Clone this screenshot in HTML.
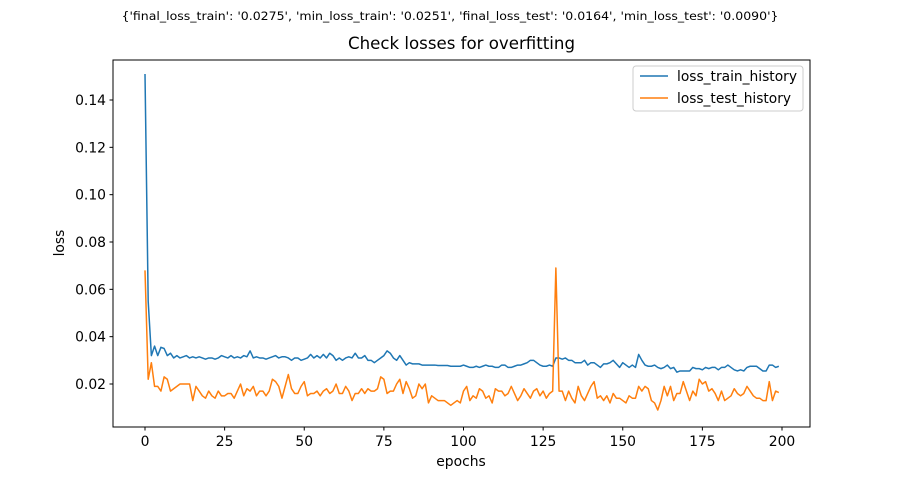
<!DOCTYPE html>
<html><head><meta charset="utf-8"><style>
body{margin:0;background:#fff;}
svg text{font-family:"DejaVu Sans","Liberation Sans",sans-serif;fill:#000;}
</style></head><body>
<svg id="chart" width="900" height="480" xmlns="http://www.w3.org/2000/svg">
<text x="450" y="20" font-size="11.5" text-anchor="middle" textLength="657" lengthAdjust="spacingAndGlyphs">{'final_loss_train': '0.0275', 'min_loss_train': '0.0251', 'final_loss_test': '0.0164', 'min_loss_test': '0.0090'}</text>
<text x="461.5" y="49" font-size="16.7" text-anchor="middle" textLength="227" lengthAdjust="spacingAndGlyphs">Check losses for overfitting</text>
<g id="axes"></g>
<rect x="113" y="60" width="697" height="367" fill="none" stroke="#000" stroke-width="1"/>
<text x="461" y="466" font-size="13.9" text-anchor="middle">epochs</text>
<text x="64" y="243" font-size="13.9" text-anchor="middle" transform="rotate(-90 64 243)">loss</text>
<g>
<rect x="633" y="66" width="170" height="45" fill="#fff" stroke="#ccc" rx="3"/>
<line x1="640" y1="76" x2="668" y2="76" stroke="#1f77b4" stroke-width="1.5"/>
<text x="677" y="81" font-size="13.9" textLength="120" lengthAdjust="spacingAndGlyphs">loss_train_history</text>
<line x1="640" y1="98" x2="668" y2="98" stroke="#ff7f0e" stroke-width="1.5"/>
<text x="677" y="103" font-size="13.9" textLength="114" lengthAdjust="spacingAndGlyphs">loss_test_history</text>
</g>
</svg>
<script>
const trainLoss=[.151,.055,.032,.036,.032,.0355,.035,.032,.033,.031,
.032,.031,.0315,.032,.031,.0315,.031,.0315,.031,.0305,
.031,.031,.0305,.031,.032,.0315,.031,.032,.031,.0315,
.031,.032,.0315,.034,.031,.0315,.031,.031,.0305,.031,
.0315,.032,.031,.0315,.0315,.031,.030,.031,.031,.030,
.0305,.031,.0325,.031,.032,.031,.0325,.031,.033,.032,
.030,.031,.030,.031,.0315,.031,.033,.031,.031,.032,
.030,.030,.029,.030,.031,.032,.034,.033,.031,.030,
.032,.030,.028,.029,.0285,.0285,.0285,.028,.028,.028,
.028,.028,.0278,.0278,.0278,.0278,.0275,.0275,.0275,.0275,
.028,.0275,.027,.027,.0275,.027,.0275,.028,.0275,.0275,
.027,.027,.028,.028,.027,.027,.0275,.028,.028,.0285,
.029,.030,.030,.029,.028,.0275,.0275,.028,.0275,.031,
.031,.0305,.031,.030,.030,.029,.029,.029,.030,.028,
.029,.029,.028,.027,.0285,.0285,.029,.030,.0285,.027,
.029,.028,.027,.028,.027,.0325,.030,.028,.0275,.0275,
.028,.027,.0265,.027,.028,.0265,.027,.025,.0255,.0255,
.0255,.0255,.027,.0265,.0265,.026,.027,.0265,.027,.027,
.026,.027,.027,.028,.027,.026,.0255,.026,.0255,.027,
.0275,.0275,.0275,.0265,.0255,.0255,.028,.028,.027,.0275];
const testLoss=[.068,.022,.029,.019,.019,.017,.023,.022,.017,.018,
.019,.020,.020,.020,.020,.013,.019,.017,.015,.014,
.017,.015,.014,.017,.015,.015,.016,.016,.014,.017,
.020,.015,.018,.017,.019,.015,.017,.017,.015,.017,
.022,.021,.019,.014,.019,.024,.018,.016,.016,.019,
.021,.015,.016,.016,.017,.015,.017,.018,.016,.017,
.020,.016,.016,.019,.017,.013,.016,.016,.018,.016,
.018,.017,.017,.018,.023,.022,.016,.017,.017,.020,
.022,.016,.021,.018,.014,.015,.020,.018,.020,.012,
.015,.014,.013,.013,.013,.012,.011,.012,.013,.012,
.017,.019,.013,.015,.014,.018,.017,.014,.015,.012,
.018,.017,.017,.015,.016,.019,.016,.013,.015,.018,
.016,.014,.017,.018,.015,.017,.014,.016,.017,.069,
.017,.017,.013,.017,.014,.012,.019,.015,.013,.016,
.019,.021,.014,.015,.013,.015,.012,.016,.014,.014,
.013,.012,.015,.014,.014,.019,.017,.019,.018,.013,
.012,.009,.013,.019,.015,.019,.013,.016,.016,.021,
.017,.013,.017,.015,.022,.020,.021,.017,.018,.016,
.013,.017,.013,.014,.015,.018,.016,.015,.016,.019,
.017,.015,.014,.014,.013,.013,.021,.013,.017,.0164];
const xTicks=[0,25,50,75,100,125,150,175,200];
const yTicks=[0.02,0.04,0.06,0.08,0.10,0.12,0.14];
const yTickLabels=["0.02","0.04","0.06","0.08","0.10","0.12","0.14"];

const NS="http://www.w3.org/2000/svg";
const g=document.getElementById('axes');
function xScale(v){return 145+v*(782-145)/200;}
function yScale(v){return 384-(v-0.02)*(284/0.12);}
function mk(tag,attrs){const e=document.createElementNS(NS,tag);for(const k in attrs)e.setAttribute(k,attrs[k]);return e;}
xTicks.forEach(t=>{
  const x=xScale(t);
  const l=mk('line',{x1:x,y1:427,x2:x,y2:430.5,stroke:'#000'});
  
  
  g.appendChild(l);
  const tx=mk('text',{x:x,y:446,'font-size':13.9,'text-anchor':'middle'});
  tx.textContent=t;
  
  
  g.appendChild(tx);
});
yTicks.forEach((t,i)=>{
  const y=yScale(t);
  const l=mk('line',{x1:109.5,y1:y,x2:113,y2:y,stroke:'#000'});
  
  
  g.appendChild(l);
  const tx=mk('text',{x:106,y:y+5,'font-size':13.9,'text-anchor':'end'});
  tx.textContent=yTickLabels[i];
  
  
  g.appendChild(tx);
});
function line(data,color,name){
  const pts=data.map((v,i)=>xScale(i).toFixed(2)+','+yScale(v).toFixed(2)).join(' ');
  const p=mk('polyline',{points:pts,fill:'none',stroke:color,'stroke-width':1.5,'stroke-linejoin':'round'});
  
  
  g.appendChild(p);
}
line(trainLoss,'#1f77b4','train-loss-line');
line(testLoss,'#ff7f0e','test-loss-line');
</script>
</body></html>
